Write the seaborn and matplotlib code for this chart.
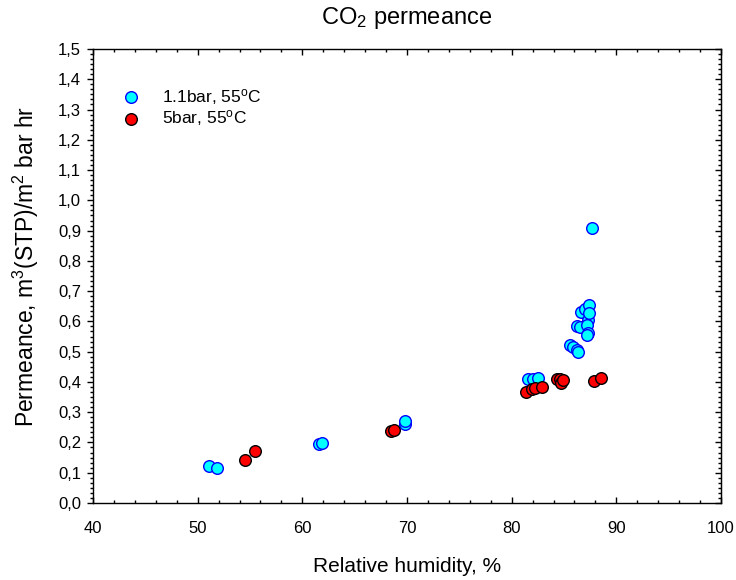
import matplotlib
matplotlib.use('Agg')
import matplotlib.pyplot as plt
from matplotlib.ticker import MultipleLocator, AutoMinorLocator
import seaborn as sns
import pandas as pd

# 1.1 bar, 55 C
rh_low = [51.1, 51.8, 61.6, 61.9, 69.8, 69.8, 81.6, 82.0, 82.5, 85.6, 85.9, 86.2,
          86.3, 86.2, 86.5, 86.6, 87.0, 87.3, 87.2, 87.3, 87.4, 87.4, 87.2, 87.7]
perm_low = [0.122, 0.115, 0.195, 0.197, 0.262, 0.272, 0.41, 0.41, 0.412, 0.522, 0.514, 0.506,
            0.50, 0.585, 0.58, 0.632, 0.64, 0.605, 0.588, 0.563, 0.654, 0.627, 0.555, 0.908]
# 5 bar, 55 C
rh_high = [54.5, 55.5, 68.5, 68.8, 81.4, 81.9, 82.2, 82.9, 84.3, 84.6, 84.7, 84.9, 87.9, 88.5]
perm_high = [0.141, 0.173, 0.238, 0.242, 0.368, 0.376, 0.38, 0.384, 0.41, 0.41, 0.397, 0.405, 0.403, 0.412]

series_names = ['1.1bar, 55$^{\\rm o}$C', '5bar, 55$^{\\rm o}$C']
xticks = [40, 50, 60, 70, 80, 90, 100]
yticks = [0.0, 0.1, 0.2, 0.3, 0.4, 0.5, 0.6, 0.7, 0.8, 0.9, 1.0, 1.1, 1.2, 1.3, 1.4, 1.5]
ytick_labels = ['0,0', '0,1', '0,2', '0,3', '0,4', '0,5', '0,6', '0,7',
                '0,8', '0,9', '1,0', '1,1', '1,2', '1,3', '1,4', '1,5']

sns.set_style('ticks')
plt.rcParams['font.family'] = ['Liberation Sans', 'DejaVu Sans']
plt.rcParams['mathtext.fontset'] = 'custom'
plt.rcParams['mathtext.rm'] = 'Liberation Sans'
plt.rcParams['mathtext.it'] = 'Liberation Sans:italic'
plt.rcParams['text.color'] = 'black'
plt.rcParams['axes.labelcolor'] = 'black'
plt.rcParams['xtick.color'] = 'black'
plt.rcParams['ytick.color'] = 'black'

df_low = pd.DataFrame({'rh': rh_low, 'perm': perm_low})
df_high = pd.DataFrame({'rh': rh_high, 'perm': perm_high})

fig = plt.figure(figsize=(7.36, 5.8), dpi=100)
ax = fig.add_axes([0.1264, 0.1328, 0.8532, 0.7827])

sns.scatterplot(x='rh', y='perm', data=df_low, ax=ax, color='#00ffff',
                edgecolor='#0000ff', linewidth=1.0, s=70, label=series_names[0], zorder=3)
sns.scatterplot(x='rh', y='perm', data=df_high, ax=ax, color='#ff0000',
                edgecolor='#000000', linewidth=1.0, s=70, label=series_names[1], zorder=3)

ax.set_xlim(40, 100)
ax.set_ylim(0, 1.5)
ax.set_xticks(xticks)
ax.set_yticks(yticks)
ax.set_yticklabels(ytick_labels)
ax.xaxis.set_minor_locator(MultipleLocator(2))
ax.yaxis.set_minor_locator(AutoMinorLocator(6))
for s in ax.spines.values():
    s.set_visible(True)
    s.set_linewidth(1.0)
    s.set_color('black')

ax.tick_params(axis='x', which='both', direction='in', top=True, bottom=True,
               labelsize=12, pad=13)
ax.tick_params(axis='x', which='major', length=4, width=1)
ax.tick_params(axis='x', which='minor', length=2.5, width=1)
ax.tick_params(axis='y', which='both', direction='out', left=True, right=False,
               labelsize=12, pad=4)
ax.tick_params(axis='y', which='major', length=4.5, width=1)
ax.tick_params(axis='y', which='minor', length=2.5, width=1)

right = ax.secondary_yaxis('right')
right.set_yticks(yticks)
right.yaxis.set_minor_locator(AutoMinorLocator(6))
right.tick_params(which='both', direction='in', labelright=False)
right.tick_params(which='major', length=4, width=1)
right.tick_params(which='minor', length=2.5, width=1)

ax.set_xlabel('Relative humidity, %', fontsize=15, labelpad=15)
ax.set_ylabel('Permeance, m$^3$(STP)/m$^2$ bar hr', fontsize=16.5)
ax.yaxis.set_label_coords(-0.083, 0.52)
ax.set_title('CO$_2$ permeance', fontsize=17, pad=18)

leg = ax.legend(loc='upper left', bbox_to_anchor=(0.033, 0.917), frameon=False,
                fontsize=12.5, handletextpad=0.78, labelspacing=0.1, borderaxespad=0,
                borderpad=0)

fig.savefig('out.png', dpi=100)
